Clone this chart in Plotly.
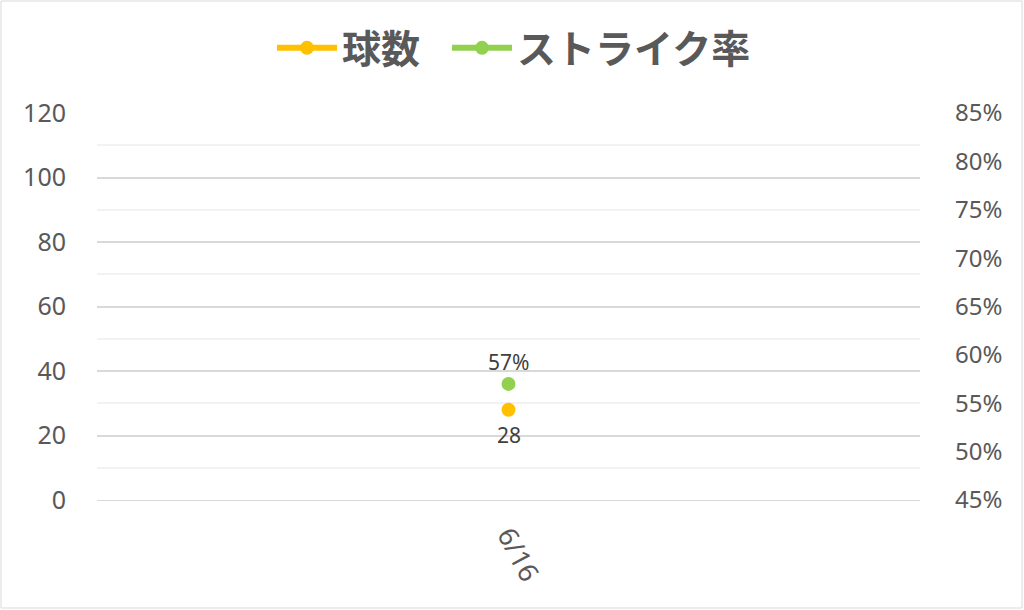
import plotly.graph_objects as go

dates = ["6/16"]
pitches = [28]
strike_rate = [0.57]
pitch_labels = ["28"]
rate_labels = ["57%"]

ORANGE = "#FFC000"
GREEN = "#92D050"
TXT = "#595959"
LBL = "#404040"

fig = go.Figure()
fig.add_trace(go.Scatter(
    x=dates, y=pitches, name="球数", mode="lines+markers",
    line=dict(color=ORANGE, width=6), marker=dict(color=ORANGE, size=14),
    legend="legend",
))
fig.add_trace(go.Scatter(
    x=dates, y=strike_rate, name="ストライク率", mode="lines+markers",
    line=dict(color=GREEN, width=6), marker=dict(color=GREEN, size=14),
    yaxis="y2", legend="legend2",
))

for xv, yv, t in zip(dates, pitches, pitch_labels):
    fig.add_annotation(x=xv, y=yv, xref="x", yref="y", text=t, showarrow=False,
                       yshift=-25, font=dict(family="Noto Sans", size=21, color=LBL))
for xv, yv, t in zip(dates, strike_rate, rate_labels):
    fig.add_annotation(x=xv, y=yv, xref="x", yref="y2", text=t, showarrow=False,
                       yshift=22, font=dict(family="Noto Sans", size=21, color=LBL))

L, R, T, B = 97, 104, 113, 110
W, H = 1024, 610
pw, ph = W - L - R, H - T - B

def px_x(p):
    return (p - L) / pw

def px_y(p):
    return (H - B - p) / ph

fig.add_shape(type="rect", xref="paper", yref="paper",
              x0=px_x(1), x1=px_x(1022), y0=px_y(608), y1=px_y(1),
              line=dict(color="#D9D9D9", width=1), layer="below")

legend_font = dict(family="Noto Sans CJK JP", size=39, color=TXT, weight="bold")

fig.update_layout(
    width=W, height=H,
    margin=dict(l=L, r=R, t=T, b=B),
    paper_bgcolor="white", plot_bgcolor="white",
    font=dict(family="Noto Sans, Noto Sans CJK JP", color=TXT),
    showlegend=True,
    legend=dict(orientation="h", x=px_x(272), xanchor="left", y=px_y(16), yanchor="top",
                font=legend_font, itemwidth=60),
    legend2=dict(orientation="h", x=px_x(447), xanchor="left", y=px_y(16), yanchor="top",
                 font=legend_font, itemwidth=60),
    xaxis=dict(type="category", range=[-0.5, 0.5], showgrid=False,
               showline=True, linecolor="#D9D9D9", linewidth=1,
               tickangle=62, tickfont=dict(size=27, color=TXT), ticks="",
               ticklabelstandoff=8),
    yaxis=dict(range=[0, 120], dtick=20, showgrid=True, gridcolor="#D9D9D9", gridwidth=1.5,
               zeroline=False, tickfont=dict(size=25, color=TXT), ticks="",
               ticklabelstandoff=30,
               minor=dict(dtick=10, showgrid=True, gridcolor="#F2F2F2", gridwidth=1.5)),
    yaxis2=dict(range=[0.45, 0.85], dtick=0.05, tickformat=".0%", overlaying="y", side="right",
                showgrid=False, zeroline=False, tickfont=dict(size=24, color=TXT), ticks="",
                ticklabelstandoff=34),
)

fig.write_html("out.html", config={"displayModeBar": False},
               post_script="document.body.style.margin='0';")
